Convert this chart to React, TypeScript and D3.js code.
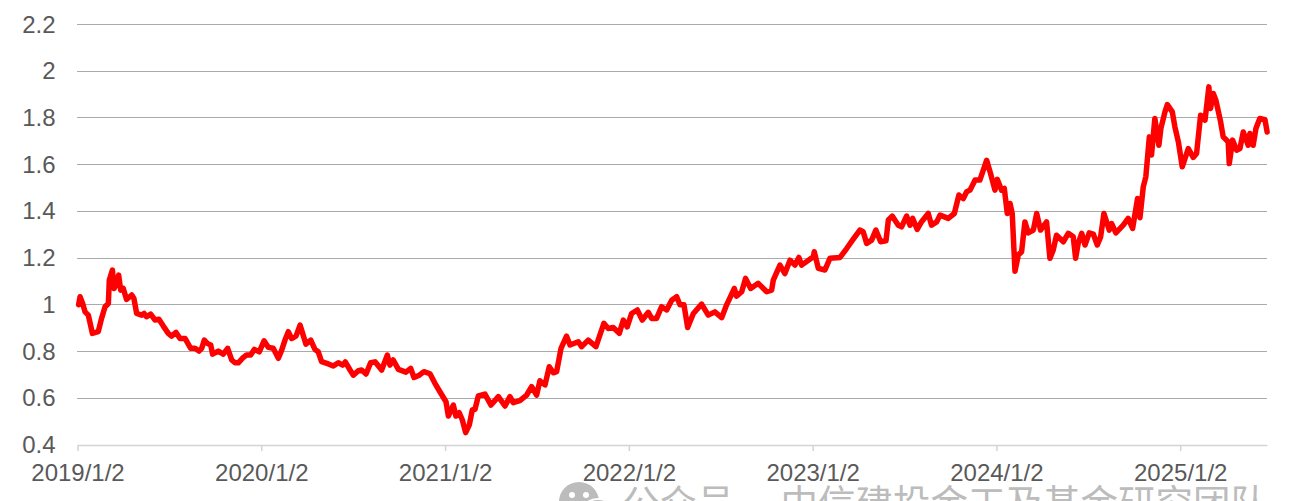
import * as d3 from "d3";
import { useEffect, useRef } from "react";

const width = 1290;
const height = 501;

// years since 2019/1/2
const yearOffset = [
  0.006, 0.014, 0.028, 0.041, 0.059, 0.081, 0.113, 0.131, 0.15, 0.168, 0.173, 0.19, 0.199, 0.213, 0.224, 0.235, 0.249, 0.267, 0.295, 0.307,
  0.322, 0.349, 0.362, 0.376, 0.398, 0.422, 0.443, 0.467, 0.494, 0.512, 0.536, 0.558, 0.585, 0.616, 0.639, 0.661, 0.676, 0.69, 0.706, 0.725,
  0.735, 0.766, 0.793, 0.817, 0.839, 0.857, 0.875, 0.902, 0.92, 0.942, 0.962, 0.989, 1.015, 1.038, 1.065, 1.093, 1.111, 1.129, 1.147, 1.165,
  1.189, 1.211, 1.243, 1.269, 1.292, 1.31, 1.328, 1.365, 1.392, 1.419, 1.443, 1.457, 1.483, 1.501, 1.528, 1.546, 1.57, 1.595, 1.619, 1.655,
  1.686, 1.7, 1.718, 1.746, 1.787, 1.813, 1.831, 1.86, 1.885, 1.918, 1.945, 1.972, 2.005, 2.018, 2.045, 2.059, 2.077, 2.094, 2.112, 2.132,
  2.148, 2.163, 2.181, 2.217, 2.25, 2.29, 2.326, 2.353, 2.371, 2.407, 2.444, 2.471, 2.498, 2.516, 2.544, 2.567, 2.589, 2.607, 2.631, 2.661,
  2.68, 2.725, 2.743, 2.779, 2.821, 2.864, 2.888, 2.915, 2.948, 2.97, 2.991, 3.015, 3.046, 3.073, 3.106, 3.124, 3.151, 3.178, 3.206, 3.233,
  3.26, 3.278, 3.3, 3.32, 3.351, 3.396, 3.432, 3.468, 3.505, 3.532, 3.574, 3.586, 3.614, 3.635, 3.663, 3.704, 3.75, 3.777, 3.786, 3.822,
  3.849, 3.877, 3.904, 3.925, 3.94, 4.004, 4.009, 4.031, 4.067, 4.094, 4.149, 4.185, 4.22, 4.257, 4.275, 4.294, 4.321, 4.344, 4.37, 4.399,
  4.412, 4.433, 4.466, 4.484, 4.511, 4.53, 4.544, 4.569, 4.593, 4.629, 4.647, 4.675, 4.693, 4.738, 4.771, 4.796, 4.82, 4.838, 4.856, 4.884,
  4.91, 4.947, 4.968, 4.992, 5.005, 5.028, 5.043, 5.059, 5.074, 5.086, 5.101, 5.119, 5.137, 5.155, 5.173, 5.201, 5.219, 5.24, 5.273, 5.291,
  5.309, 5.327, 5.364, 5.391, 5.418, 5.431, 5.445, 5.464, 5.482, 5.505, 5.527, 5.549, 5.567, 5.585, 5.614, 5.627, 5.65, 5.69, 5.717, 5.741,
  5.768, 5.781, 5.799, 5.813, 5.832, 5.844, 5.862, 5.884, 5.895, 5.917, 5.93, 5.957, 5.971, 5.99, 6.011, 6.044, 6.071, 6.089, 6.111, 6.135,
  6.156, 6.165, 6.18, 6.194, 6.22, 6.234, 6.261, 6.267, 6.285, 6.307, 6.325, 6.343, 6.37, 6.379, 6.397, 6.412, 6.433, 6.461, 6.473,
];

const nav = [
  1.0, 1.035, 1.006, 0.97, 0.956, 0.878, 0.885, 0.942, 0.992, 1.006, 1.106, 1.149, 1.07, 1.092, 1.127, 1.063, 1.07, 1.023, 1.042, 1.027,
  0.963, 0.956, 0.963, 0.949, 0.96, 0.935, 0.938, 0.909, 0.878, 0.866, 0.882, 0.856, 0.856, 0.814, 0.814, 0.802, 0.814, 0.849, 0.835, 0.828,
  0.789, 0.802, 0.789, 0.814, 0.764, 0.752, 0.752, 0.775, 0.785, 0.785, 0.809, 0.799, 0.846, 0.818, 0.814, 0.771, 0.806, 0.849, 0.885, 0.856,
  0.866, 0.913, 0.832, 0.849, 0.809, 0.799, 0.757, 0.747, 0.738, 0.752, 0.742, 0.756, 0.721, 0.699, 0.718, 0.721, 0.704, 0.752, 0.756, 0.721,
  0.785, 0.742, 0.764, 0.724, 0.712, 0.728, 0.689, 0.699, 0.714, 0.705, 0.664, 0.628, 0.585, 0.524, 0.571, 0.524, 0.538, 0.507, 0.453, 0.486,
  0.55, 0.553, 0.61, 0.618, 0.571, 0.607, 0.567, 0.607, 0.581, 0.59, 0.614, 0.65, 0.614, 0.675, 0.657, 0.735, 0.709, 0.714, 0.814, 0.866,
  0.828, 0.842, 0.821, 0.849, 0.821, 0.921, 0.899, 0.903, 0.878, 0.935, 0.906, 0.963, 0.978, 0.935, 0.968, 0.942, 0.942, 0.992, 0.978, 1.02,
  1.035, 1.0, 1.0, 0.903, 0.963, 1.003, 0.956, 0.97, 0.945, 1.0, 1.07, 1.037, 1.056, 1.113, 1.07, 1.092, 1.056, 1.063, 1.106, 1.17,
  1.134, 1.191, 1.17, 1.203, 1.17, 1.206, 1.227, 1.156, 1.149, 1.199, 1.203, 1.241, 1.28, 1.32, 1.313, 1.263, 1.277, 1.32, 1.27, 1.274,
  1.363, 1.38, 1.341, 1.334, 1.38, 1.341, 1.37, 1.323, 1.356, 1.391, 1.341, 1.355, 1.384, 1.37, 1.391, 1.47, 1.455, 1.484, 1.491, 1.534,
  1.534, 1.619, 1.562, 1.491, 1.537, 1.491, 1.498, 1.391, 1.434, 1.391, 1.144, 1.213, 1.227, 1.355, 1.308, 1.32, 1.391, 1.32, 1.355, 1.199,
  1.234, 1.298, 1.27, 1.306, 1.291, 1.199, 1.263, 1.306, 1.256, 1.308, 1.303, 1.256, 1.291, 1.391, 1.32, 1.348, 1.308, 1.341, 1.37, 1.327,
  1.455, 1.373, 1.505, 1.548, 1.719, 1.641, 1.798, 1.683, 1.755, 1.826, 1.857, 1.826, 1.762, 1.698, 1.591, 1.669, 1.631, 1.648, 1.812, 1.79,
  1.933, 1.84, 1.905, 1.876, 1.783, 1.719, 1.698, 1.605, 1.705, 1.662, 1.669, 1.74, 1.683, 1.733, 1.683, 1.755, 1.798, 1.793, 1.74,
];

const yTicks = [0.4, 0.6, 0.8, 1, 1.2, 1.4, 1.6, 1.8, 2, 2.2];
const xTicks = [0, 1, 2, 3, 4, 5, 6];
const xLabels = ["2019/1/2", "2020/1/2", "2021/1/2", "2022/1/2", "2023/1/2", "2024/1/2", "2025/1/2"];
const lastYear = 6.475;

const App = () => {
  const ref = useRef<SVGSVGElement>(null);

  useEffect(() => {
    const svg = d3.select(ref.current);
    svg.selectAll("*").remove();

    const x = d3.scaleLinear().domain([0, lastYear]).range([77.5, 1267.5]);
    const y = d3.scaleLinear().domain([0.4, 2.2]).range([445, 24.5]);

    // gridlines, dotted
    svg
      .append("g")
      .selectAll("line")
      .data(yTicks.filter((d) => d > 0.4))
      .enter()
      .append("line")
      .attr("x1", x(0))
      .attr("x2", x(lastYear))
      .attr("y1", (d) => Math.floor(y(d)) + 0.5)
      .attr("y2", (d) => Math.floor(y(d)) + 0.5)
      .attr("stroke", "#555555")
      .attr("stroke-width", 1)
      .attr("stroke-dasharray", "1,1");

    // y labels
    svg
      .append("g")
      .selectAll("text")
      .data(yTicks)
      .enter()
      .append("text")
      .attr("x", 55.5)
      .attr("y", (d) => y(d) + 8)
      .attr("text-anchor", "end")
      .attr("font-family", "Liberation Sans")
      .attr("font-size", 24)
      .attr("fill", "#595959")
      .text((d) => String(d));

    // x axis
    const axis = d3
      .axisBottom(x)
      .tickValues(xTicks)
      .tickSize(6)
      .tickFormat((d, i) => xLabels[i]);
    const axisG = svg.append("g").attr("transform", "translate(0,445)").call(axis);
    axisG.selectAll("path,line").attr("stroke", "#d4d4d4").attr("stroke-width", 1.5);
    axisG.select(".domain").attr("d", `M${x(0)},0.5V0.5H${x(lastYear)}`);
    axisG
      .selectAll("text")
      .attr("y", 19)
      .attr("dy", "0.71em")
      .attr("font-family", "Liberation Sans")
      .attr("font-size", 24)
      .attr("fill", "#595959");

    // nav line
    const line = d3
      .line<number>()
      .x((d) => x(d))
      .y((d, i) => y(nav[i]));
    svg
      .append("path")
      .attr("d", line(yearOffset))
      .attr("fill", "none")
      .attr("stroke", "#ff0000")
      .attr("stroke-width", 5.5)
      .attr("stroke-linejoin", "round")
      .attr("stroke-linecap", "round");

    // watermark at the bottom edge, cut off by the picture
    const mark = svg.append("g").attr("fill", "#bcbcbc");
    mark.append("ellipse").attr("cx", 579).attr("cy", 502).attr("rx", 20).attr("ry", 20);
    mark.append("ellipse").attr("cx", 598).attr("cy", 514).attr("rx", 17).attr("ry", 15).attr("stroke", "#fff").attr("stroke-width", 2);
    mark.append("circle").attr("cx", 572).attr("cy", 495).attr("r", 3).attr("fill", "#fff");
    mark.append("circle").attr("cx", 586).attr("cy", 495).attr("r", 3).attr("fill", "#fff");
    mark
      .append("text")
      .attr("x", 622)
      .attr("y", 517)
      .attr("font-family", "Noto Sans CJK SC")
      .attr("font-size", 37.5)
      .text("公众号");
    mark
      .append("text")
      .attr("x", 1268)
      .attr("y", 517)
      .attr("text-anchor", "end")
      .attr("font-family", "Noto Sans CJK SC")
      .attr("font-size", 37.5)
      .text("中信建投金工及基金研究团队");
  }, []);

  return <svg ref={ref} width={width} height={height} style={{ position: "absolute", left: 0, top: 0, background: "#fff" }} />;
};

export default App;
